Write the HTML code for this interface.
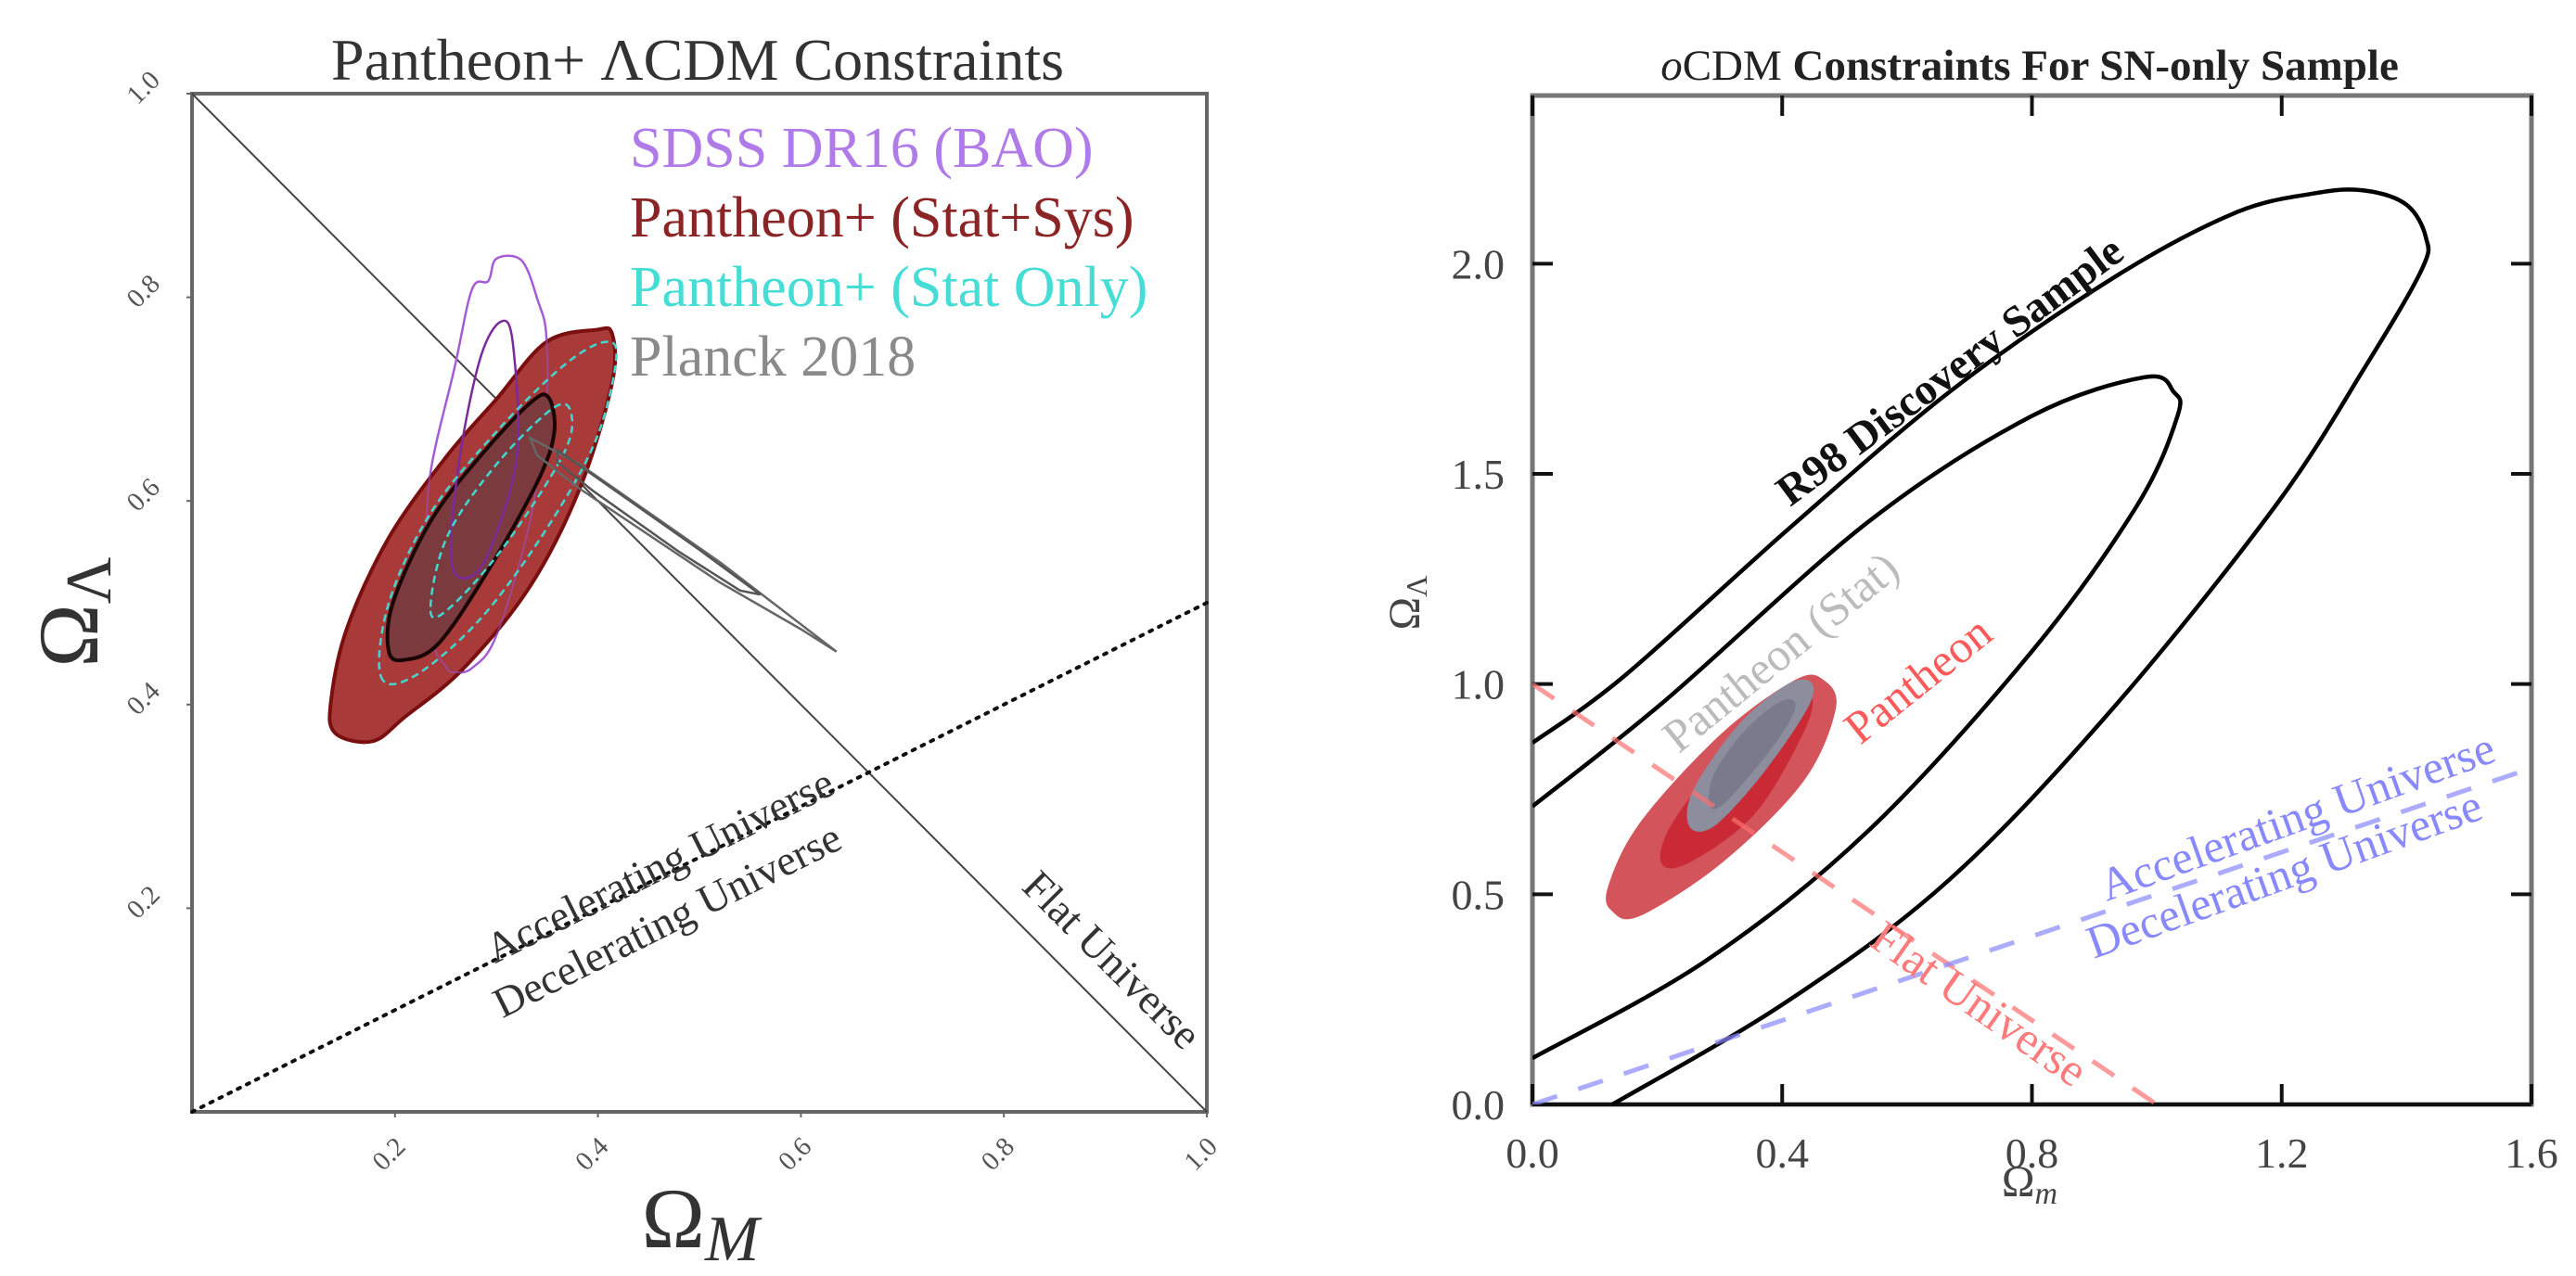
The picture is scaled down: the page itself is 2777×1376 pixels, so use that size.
<!DOCTYPE html>
<html><head><meta charset="utf-8"><style>
html,body{margin:0;padding:0;background:#fff;}
svg{display:block;font-family:"Liberation Serif",serif;}
</style></head><body>
<svg id="fig" width="2777" height="1376" viewBox="0 0 2777 1376" xmlns="http://www.w3.org/2000/svg">
<rect width="2777" height="1376" fill="#fff"/>
<g id="left"></g>
<g id="right"></g>
</svg>
<script>
// ---------- Left panel data (Omega_M, Omega_Lambda) ----------
const leftTicks=[0.2,0.4,0.6,0.8,1.0];
const leftTickLabels=["0.2","0.4","0.6","0.8","1.0"];
const maroonOuter=[[.137,.404],[.141,.372],[.178,.364],[.210,.388],[.268,.436],[.333,.516],[.382,.612],[.414,.716],[.414,.764],[.398,.768],[.349,.756],[.300,.700],[.251,.644],[.194,.564],[.153,.476]];
const maroonInner=[[.194,.452],[.210,.444],[.243,.460],[.292,.532],[.341,.620],[.357,.668],[.351,.702],[.333,.696],[.284,.644],[.235,.580],[.198,.500]];
const cyanOuter=[[.186,.428],[.219,.428],[.284,.484],[.349,.572],[.398,.660],[.418,.740],[.406,.756],[.365,.732],[.300,.668],[.235,.588],[.194,.500]];
const cyanInner=[[.235,.492],[.255,.496],[.308,.556],[.365,.644],[.374,.684],[.357,.692],[.300,.636],[.251,.564]];
const purpleOuter=[[.259,.432],[.276,.436],[.300,.468],[.333,.580],[.349,.692],[.349,.764],[.341,.796],[.325,.836],[.300,.838],[.292,.816],[.276,.808],[.259,.732],[.235,.628],[.231,.548],[.235,.468],[.251,.436]];
const purpleInner=[[.304,.776],[.316,.756],[.320,.644],[.292,.548],[.268,.524],[.255,.548],[.264,.644],[.284,.740]];
const planckOuter=[[.333,.662],[.382,.636],[.520,.540],[.635,.452],[.600,.474],[.520,.520],[.382,.612],[.340,.645]];
const planckInner=[[.360,.650],[.400,.622],[.500,.552],[.560,.508],[.540,.512],[.480,.550],[.395,.610],[.360,.638]];
const flatLine=[[0,1],[1,0]];
const accelLine=[[0,0],[1,0.5]];
// ---------- Right panel data (Omega_m, Omega_Lambda) ----------
const rightXTicks=[0.0,0.4,0.8,1.2,1.6];
const rightXLabels=["0.0","0.4","0.8","1.2","1.6"];
const rightYTicks=[0.0,0.5,1.0,1.5,2.0];
const rightYLabels=["0.0","0.5","1.0","1.5","2.0"];
const r98Outer=[[0,.86],[.147,1.019],[.408,1.366],[.668,1.695],[.929,1.965],[1.124,2.12],[1.255,2.168],[1.333,2.174],[1.400,2.140],[1.431,2.062],[1.424,1.985],[1.333,1.753],[1.19,1.424],[.929,.941],[.668,.535],[.408,.245],[.128,0]];
const r98Inner=[[0,.709],[.212,.96],[.538,1.386],[.799,1.637],[.981,1.730],[1.027,1.695],[1.033,1.637],[.968,1.424],[.799,1.076],[.538,.651],[.278,.342],[0,.110]];
const redOuter=[[.128,.459],[.173,.449],[.304,.575],[.434,.768],[.486,.942],[.466,1.010],[.421,1.010],[.304,.884],[.173,.672],[.121,.517]];
const redInner=[[.206,.575],[.251,.575],[.356,.691],[.434,.884],[.447,.971],[.408,.961],[.317,.845],[.225,.672]];
const greyOuter=[[.251,.662],[.291,.662],[.369,.787],[.440,.941],[.447,1.003],[.408,.999],[.330,.903],[.258,.749]];
const greyInner=[[.284,.710],[.310,.720],[.382,.845],[.421,.942],[.401,.961],[.343,.894],[.291,.787]];
const flatR=[[0,1],[1,0]];
const accelR=[[0,0],[1.6,0.8]];

const NS="http://www.w3.org/2000/svg";
function mk(parent,tag,attrs,txt){const e=document.createElementNS(NS,tag);for(const k in attrs)e.setAttribute(k,attrs[k]);if(txt!==undefined)e.textContent=txt;parent.appendChild(e);return e;}
const L={x0:207,x1:1301,y0:1199,y1:101};
const lx=v=>L.x0+v*(L.x1-L.x0), ly=v=>L.y0-v*(L.y0-L.y1);
const R={x0:1652,x1:2729,y0:1191,y1:103};
const rx=v=>R.x0+v/1.6*(R.x1-R.x0), ry=v=>R.y0-v/2.4*(R.y0-R.y1);
function pts(arr,fx,fy){return arr.map(p=>fx(p[0]).toFixed(1)+","+fy(p[1]).toFixed(1)).join(" ");}
function smooth(arr,fx,fy,closed){const P=arr.map(p=>[fx(p[0]),fy(p[1])]);const n=P.length;let d="M"+P[0][0].toFixed(1)+","+P[0][1].toFixed(1);
 const g=i=>closed?P[(i+n)%n]:P[Math.max(0,Math.min(n-1,i))];const m=closed?n:n-1;
 for(let i=0;i<m;i++){const p0=g(i-1),p1=g(i),p2=g(i+1),p3=g(i+2);
  const c1=[p1[0]+(p2[0]-p0[0])/6,p1[1]+(p2[1]-p0[1])/6],c2=[p2[0]-(p3[0]-p1[0])/6,p2[1]-(p3[1]-p1[1])/6];
  d+=" C"+c1.map(v=>v.toFixed(1))+" "+c2.map(v=>v.toFixed(1))+" "+p2[0].toFixed(1)+","+p2[1].toFixed(1);}
 return d+(closed?"Z":"");}

const gl=document.getElementById('left');
let e;
e=mk(gl,'text',{x:752,y:86,'font-size':64,fill:'#333','text-anchor':'middle'},'Pantheon+ ΛCDM Constraints');

e=mk(gl,'rect',{x:L.x0,y:L.y1,width:L.x1-L.x0,height:L.y0-L.y1,fill:'none',stroke:'#666','stroke-width':4});

leftTicks.forEach((t,i)=>{
 e=mk(gl,'text',{x:0,y:0,'font-size':29,fill:'#555','text-anchor':'middle',transform:`translate(${lx(t)},${L.y0+52}) rotate(-45)`},leftTickLabels[i]);
 
 e=mk(gl,'text',{x:0,y:0,'font-size':29,fill:'#555','text-anchor':'middle',transform:`translate(${L.x0-46},${ly(t)}) rotate(-45)`},leftTickLabels[i]);
 
 mk(gl,'line',{x1:lx(t),x2:lx(t),y1:L.y0,y2:L.y0+6,stroke:'#666','stroke-width':2});
 mk(gl,'line',{x1:L.x0,x2:L.x0-6,y1:ly(t),y2:ly(t),stroke:'#666','stroke-width':2});
});
e=mk(gl,'text',{x:755,y:1345,'font-size':92,fill:'#333','text-anchor':'middle'});
e.innerHTML='Ω<tspan font-style="italic" font-size="70" dy="14">M</tspan>';

e=mk(gl,'text',{x:0,y:0,'font-size':92,fill:'#333','text-anchor':'middle',transform:'translate(105,660) rotate(-90)'});
e.innerHTML='Ω<tspan font-size="70" dy="14">Λ</tspan>';

e=mk(gl,'line',{x1:lx(flatLine[0][0]),y1:ly(flatLine[0][1]),x2:lx(flatLine[1][0]),y2:ly(flatLine[1][1]),stroke:'#444','stroke-width':2});

e=mk(gl,'line',{x1:lx(accelLine[0][0]),y1:ly(accelLine[0][1]),x2:lx(accelLine[1][0]),y2:ly(accelLine[1][1]),stroke:'#111','stroke-width':4,'stroke-dasharray':'3 8','stroke-linecap':'round'});

e=mk(gl,'path',{d:smooth(purpleOuter,lx,ly,true),fill:'none',stroke:'#b06be0','stroke-width':2.5});

e=mk(gl,'path',{d:smooth(maroonOuter,lx,ly,true),fill:'#a83a3a',stroke:'#7a0f0f','stroke-width':4});

e=mk(gl,'path',{d:smooth(purpleOuter,lx,ly,true),fill:'none',stroke:'#9a50c8','stroke-width':2,opacity:0.6});

e=mk(gl,'path',{d:smooth(maroonInner,lx,ly,true),fill:'#7a3a3e',stroke:'#1a0505','stroke-width':4});

e=mk(gl,'path',{d:smooth(purpleInner,lx,ly,true),fill:'none',stroke:'#7a2a9a','stroke-width':2.5});

e=mk(gl,'path',{d:smooth(cyanOuter,lx,ly,true),fill:'none',stroke:'#40d8d0','stroke-width':2.5,'stroke-dasharray':'8 5'});

e=mk(gl,'path',{d:smooth(cyanInner,lx,ly,true),fill:'none',stroke:'#40d8d0','stroke-width':2.5,'stroke-dasharray':'8 5'});

e=mk(gl,'polygon',{points:pts(planckOuter,lx,ly),fill:'none',stroke:'#666','stroke-width':2.5});

e=mk(gl,'polygon',{points:pts(planckInner,lx,ly),fill:'none',stroke:'#555','stroke-width':2.5});

const legL=[["SDSS DR16 (BAO)","#b07be8"],["Pantheon+ (Stat+Sys)","#8b2525"],["Pantheon+ (Stat Only)","#45ddd5"],["Planck 2018","#8a8a8a"]];
legL.forEach((l,i)=>{e=mk(gl,'text',{x:679,y:180+i*75,'font-size':62,fill:l[1]},l[0]);
 });
e=mk(gl,'text',{x:0,y:0,'font-size':46,fill:'#333','text-anchor':'middle',transform:`translate(718,947) rotate(-26.6)`},'Accelerating Universe');

e=mk(gl,'text',{x:0,y:0,'font-size':46,fill:'#333','text-anchor':'middle',transform:`translate(726,1006) rotate(-26.6)`},'Decelerating Universe');

e=mk(gl,'text',{x:0,y:0,'font-size':46,fill:'#333','text-anchor':'middle',transform:`translate(1188,1046) rotate(45)`},'Flat Universe');


const gr=document.getElementById('right');
e=mk(gr,'text',{x:2188,y:86,'font-size':47,fill:'#222','text-anchor':'middle'});
e.innerHTML='<tspan font-style="italic" font-weight="normal">o</tspan><tspan font-weight="normal">CDM</tspan><tspan font-weight="bold"> Constraints For SN-only Sample</tspan>';

e=mk(gr,'rect',{x:R.x0,y:R.y1,width:R.x1-R.x0,height:R.y0-R.y1,fill:'none',stroke:'#777','stroke-width':5});

mk(gr,'line',{x1:R.x0,x2:R.x1,y1:R.y0,y2:R.y0,stroke:'#111','stroke-width':4});
rightXTicks.forEach((t,i)=>{
 mk(gr,'line',{x1:rx(t),x2:rx(t),y1:R.y0,y2:R.y0-22,stroke:'#111','stroke-width':4});
 mk(gr,'line',{x1:rx(t),x2:rx(t),y1:R.y1,y2:R.y1+22,stroke:'#111','stroke-width':4});
 e=mk(gr,'text',{x:rx(t),y:R.y0+68,'font-size':46,fill:'#444','text-anchor':'middle'},rightXLabels[i]);
 
});
rightYTicks.forEach((t,i)=>{
 mk(gr,'line',{x1:R.x0,x2:R.x0+22,y1:ry(t),y2:ry(t),stroke:'#111','stroke-width':4});
 mk(gr,'line',{x1:R.x1,x2:R.x1-22,y1:ry(t),y2:ry(t),stroke:'#111','stroke-width':4});
 e=mk(gr,'text',{x:R.x0-30,y:ry(t)+16,'font-size':46,fill:'#444','text-anchor':'end'},rightYLabels[i]);
 
});
e=mk(gr,'text',{x:2188,y:1290,'font-size':48,fill:'#444','text-anchor':'middle'});
e.innerHTML='Ω<tspan font-style="italic" font-size="34" dy="8">m</tspan>';

e=mk(gr,'text',{x:0,y:0,'font-size':48,fill:'#444','text-anchor':'middle',transform:'translate(1530,650) rotate(-90)'});
e.innerHTML='Ω<tspan font-size="32" dy="8">Λ</tspan>';

const clip=mk(gr,'clipPath',{id:'rc'});mk(clip,'rect',{x:R.x0,y:R.y1,width:R.x1-R.x0,height:R.y0-R.y1});
const gc=mk(gr,'g',{'clip-path':'url(#rc)'});
e=mk(gc,'path',{d:smooth(redOuter,rx,ry,true),fill:'#d4545c',stroke:'none'});

e=mk(gc,'path',{d:smooth(redInner,rx,ry,true),fill:'#c92a36',stroke:'none'});

e=mk(gc,'path',{d:smooth(greyOuter,rx,ry,true),fill:'#8c8e9e',stroke:'none'});

e=mk(gc,'path',{d:smooth(greyInner,rx,ry,true),fill:'#7a7a8c',stroke:'none'});

e=mk(gc,'path',{d:smooth(r98Outer,rx,ry,false),fill:'none',stroke:'#000','stroke-width':4.5});

e=mk(gc,'path',{d:smooth(r98Inner,rx,ry,false),fill:'none',stroke:'#000','stroke-width':4.5});

e=mk(gc,'line',{x1:rx(flatR[0][0]),y1:ry(flatR[0][1]),x2:rx(flatR[1][0]),y2:ry(flatR[1][1]),stroke:'#ff7070','stroke-width':5,'stroke-dasharray':'28 24',opacity:0.7});

e=mk(gc,'line',{x1:rx(accelR[0][0]),y1:ry(accelR[0][1]),x2:rx(accelR[1][0]),y2:ry(accelR[1][1]),stroke:'#8888ff','stroke-width':5,'stroke-dasharray':'28 24',opacity:0.7});

e=mk(gr,'text',{x:0,y:0,'font-size':47,'font-weight':'bold',fill:'#111','text-anchor':'middle',transform:'translate(2111,412) rotate(-36.7)'},'R98 Discovery Sample');

e=mk(gr,'text',{x:0,y:0,'font-size':50,fill:'#bbb','text-anchor':'middle',transform:'translate(1930,716) rotate(-39)'},'Pantheon (Stat)');

e=mk(gr,'text',{x:0,y:0,'font-size':50,fill:'#ff5a5a','text-anchor':'middle',transform:'translate(2078,746) rotate(-38.7)'},'Pantheon');

e=mk(gr,'text',{x:0,y:0,'font-size':50,fill:'#ff7a7a','text-anchor':'middle',transform:'translate(2124,1096) rotate(35)'},'Flat Universe');

e=mk(gr,'text',{x:0,y:0,'font-size':50,fill:'#8888ff','text-anchor':'middle',transform:'translate(2482,896) rotate(-19.8)'},'Accelerating Universe');

e=mk(gr,'text',{x:0,y:0,'font-size':50,fill:'#8888ff','text-anchor':'middle',transform:'translate(2468,958) rotate(-19.8)'},'Decelerating Universe');

</script>
</body></html>
